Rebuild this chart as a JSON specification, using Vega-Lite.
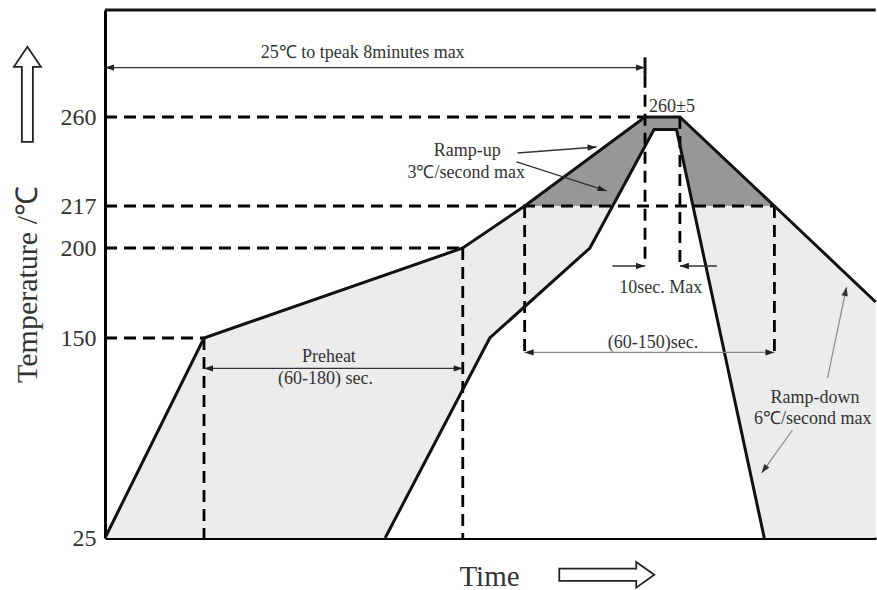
{
  "$schema": "https://vega.github.io/schema/vega-lite/v6.json",
  "width": 771,
  "height": 528,
  "autosize": {"type": "none"},
  "padding": {"left": 105, "top": 10, "right": 1, "bottom": 52},
  "background": "white",
  "config": {"view": {"stroke": null}, "font": "Liberation Serif"},
  "datasets": {
    "upper": [{"t":0,"v":25},{"t":88,"v":150},{"t":318,"v":200},{"t":373,"v":217},{"t":480,"v":260},{"t":511,"v":260},{"t":595,"v":217},{"t":685,"v":170}],
    "lower": [{"t":249,"v":25},{"t":342,"v":150},{"t":431,"v":200},{"t":488,"v":254},{"t":508,"v":254},{"t":586,"v":25}],
    "peak": [{"t":373,"v":217},{"t":480,"v":260},{"t":511,"v":260},{"t":595,"v":217}],
    "dashes": [
      {"t":0,"v":260,"t2":480,"v2":260},
      {"t":0,"v":217,"t2":595,"v2":217},
      {"t":0,"v":200,"t2":318,"v2":200},
      {"t":0,"v":150,"t2":88,"v2":150},
      {"t":88,"v":150,"t2":88,"v2":25},
      {"t":318,"v":200,"t2":318,"v2":25},
      {"t":373,"v":217,"t2":373,"v2":138},
      {"t":595,"v":217,"t2":595,"v2":138},
      {"t":480,"v":280,"t2":480,"v2":190},
      {"t":511,"v":260,"t2":511,"v2":190}
    ],
    "frame": [{"t":0,"v":312,"t2":685,"v2":312},{"t":480,"v":289,"t2":480,"v2":280}],
    "arrows": [
      {"t":0,"v":284,"t2":480,"v2":284},
      {"t":88,"v":131,"t2":318,"v2":131},
      {"t":451,"v":190,"t2":480,"v2":190},
      {"t":544,"v":190,"t2":511,"v2":190},
      {"t":366.7,"v":242.6,"t2":436.9,"v2":245.5},
      {"t":365.8,"v":238.3,"t2":445.8,"v2":224.3}
    ],
    "arrowsGray": [
      {"t":373,"v":141,"t2":595,"v2":141},
      {"t":642.2,"v":125,"t2":659.1,"v2":178.3},
      {"t":611.1,"v":92.5,"t2":583.6,"v2":65.6}
    ],
    "headsRight": [{"t":480,"v":284},{"t":318,"v":131},{"t":480,"v":190}],
    "headsLeft": [{"t":0,"v":284},{"t":88,"v":131},{"t":511,"v":190}],
    "grayRight": [{"t":595,"v":141}],
    "grayLeft": [{"t":373,"v":141}],
    "upArrow": [{"t":-69,"v":271}],
    "timeArrow": [{"t":446,"v":2}],
    "labels": [
      {"label":"25℃ to tpeak 8minutes max","t":229,"v":291},
      {"label":"260±5","t":504,"v":265},
      {"label":"Ramp-up","t":322,"v":243.5},
      {"label":"3℃/second max","t":321,"v":233},
      {"label":"10sec.  Max","t":494,"v":178},
      {"label":"(60-150)sec.","t":487,"v":147},
      {"label":"Preheat","t":199,"v":138},
      {"label":"(60-180) sec.","t":196,"v":124.4},
      {"label":"Ramp-down","t":631,"v":112.5},
      {"label":"6℃/second max","t":629,"v":99.5}
    ]
  },
  "layer": [
    {
      "data": {"name": "upper"},
      "mark": {"type": "area", "color": "#ececec", "opacity": 1},
      "encoding": {
        "x": {"field": "t", "type": "quantitative",
          "scale": {"domain": [0, 685.3], "nice": false, "zero": false},
          "axis": {"title": "Time", "labels": false, "ticks": false, "grid": false, "domainColor": "black", "domainWidth": 3,
            "titleFont": "Liberation Serif", "titleFontSize": 29, "titleFontWeight": "normal", "titleColor": "#333",
            "titleX": 384, "titleY": 38, "titleAlign": "center", "titleBaseline": "middle"}},
        "y": {"field": "v", "type": "quantitative",
          "scale": {"type": "linear", "domain": [25, 150, 200, 217, 260, 312], "range": [528, 328, 238, 196, 107, 0], "nice": false, "zero": false},
          "axis": {"values": [25, 150, 200, 217, 260], "title": "Temperature /℃", "titleFont": "Liberation Serif", "titleFontSize": 30,
            "titleFontWeight": "normal", "titleColor": "#333", "titleX": -78, "titleY": 274, "titleAngle": -90, "titleAlign": "center",
            "titleBaseline": "middle", "labelFont": "Liberation Serif", "labelFontSize": 24, "labelColor": "#333", "labelPadding": 9,
            "ticks": false, "grid": false, "domainColor": "black", "domainWidth": 3, "labelOverlap": false, "labelFlush": false}},
        "y2": {"datum": 25}
      }
    },
    {
      "data": {"name": "peak"},
      "mark": {"type": "area", "color": "#979797", "opacity": 1},
      "encoding": {"x": {"field": "t", "type": "quantitative"}, "y": {"field": "v", "type": "quantitative"}, "y2": {"datum": 217}}
    },
    {
      "data": {"name": "lower"},
      "mark": {"type": "area", "color": "white", "opacity": 1},
      "encoding": {"x": {"field": "t", "type": "quantitative"}, "y": {"field": "v", "type": "quantitative"}, "y2": {"datum": 25}}
    },
    {
      "data": {"name": "dashes"},
      "mark": {"type": "rule", "color": "black", "strokeWidth": 2.8, "strokeDash": [12, 7]},
      "encoding": {"x": {"field": "t", "type": "quantitative"}, "y": {"field": "v", "type": "quantitative"}, "x2": {"field": "t2"}, "y2": {"field": "v2"}}
    },
    {
      "data": {"name": "upper"},
      "mark": {"type": "line", "color": "#111", "strokeWidth": 3},
      "encoding": {"x": {"field": "t", "type": "quantitative"}, "y": {"field": "v", "type": "quantitative"}}
    },
    {
      "data": {"name": "lower"},
      "mark": {"type": "line", "color": "#111", "strokeWidth": 3},
      "encoding": {"x": {"field": "t", "type": "quantitative"}, "y": {"field": "v", "type": "quantitative"}}
    },
    {
      "data": {"name": "frame"},
      "mark": {"type": "rule", "color": "#111", "strokeWidth": 3},
      "encoding": {"x": {"field": "t", "type": "quantitative"}, "y": {"field": "v", "type": "quantitative"}, "x2": {"field": "t2"}, "y2": {"field": "v2"}}
    },
    {
      "data": {"name": "arrows"},
      "mark": {"type": "rule", "color": "#333", "strokeWidth": 1.3},
      "encoding": {"x": {"field": "t", "type": "quantitative"}, "y": {"field": "v", "type": "quantitative"}, "x2": {"field": "t2"}, "y2": {"field": "v2"}}
    },
    {
      "data": {"name": "arrowsGray"},
      "mark": {"type": "rule", "color": "#888", "strokeWidth": 1.2},
      "encoding": {"x": {"field": "t", "type": "quantitative"}, "y": {"field": "v", "type": "quantitative"}, "x2": {"field": "t2"}, "y2": {"field": "v2"}}
    },
    {
      "data": {"name": "headsRight"},
      "mark": {"type": "point", "shape": "M0,0L-2,-0.7L-2,0.7Z", "filled": true, "color": "#222", "opacity": 1, "size": 81, "angle": 0},
      "encoding": {"x": {"field": "t", "type": "quantitative"}, "y": {"field": "v", "type": "quantitative"}}
    },
    {
      "data": {"name": "headsLeft"},
      "mark": {"type": "point", "shape": "M0,0L-2,-0.7L-2,0.7Z", "filled": true, "color": "#222", "opacity": 1, "size": 81, "angle": 180},
      "encoding": {"x": {"field": "t", "type": "quantitative"}, "y": {"field": "v", "type": "quantitative"}}
    },
    {
      "data": {"name": "grayRight"},
      "mark": {"type": "point", "shape": "M0,0L-2,-0.7L-2,0.7Z", "filled": true, "color": "#222", "opacity": 1, "size": 81, "angle": 0},
      "encoding": {"x": {"field": "t", "type": "quantitative"}, "y": {"field": "v", "type": "quantitative"}}
    },
    {
      "data": {"name": "grayLeft"},
      "mark": {"type": "point", "shape": "M0,0L-2,-0.7L-2,0.7Z", "filled": true, "color": "#222", "opacity": 1, "size": 81, "angle": 180},
      "encoding": {"x": {"field": "t", "type": "quantitative"}, "y": {"field": "v", "type": "quantitative"}}
    },
    {
      "data": {"values": [{"t": 436.9, "v": 245.5}]},
      "mark": {"type": "point", "shape": "M0,0L-2,-0.7L-2,0.7Z", "filled": true, "color": "#222", "opacity": 1, "size": 81, "angle": -4.3},
      "encoding": {"x": {"field": "t", "type": "quantitative"}, "y": {"field": "v", "type": "quantitative"}}
    },
    {
      "data": {"values": [{"t": 445.8, "v": 224.3}]},
      "mark": {"type": "point", "shape": "M0,0L-2,-0.7L-2,0.7Z", "filled": true, "color": "#222", "opacity": 1, "size": 81, "angle": 17.9},
      "encoding": {"x": {"field": "t", "type": "quantitative"}, "y": {"field": "v", "type": "quantitative"}}
    },
    {
      "data": {"values": [{"t": 659.1, "v": 178.3}]},
      "mark": {"type": "point", "shape": "M0,0L-2,-0.7L-2,0.7Z", "filled": true, "color": "#333", "opacity": 1, "size": 81, "angle": -78.2},
      "encoding": {"x": {"field": "t", "type": "quantitative"}, "y": {"field": "v", "type": "quantitative"}}
    },
    {
      "data": {"values": [{"t": 583.6, "v": 65.6}]},
      "mark": {"type": "point", "shape": "M0,0L-2,-0.7L-2,0.7Z", "filled": true, "color": "#333", "opacity": 1, "size": 81, "angle": 125.8},
      "encoding": {"x": {"field": "t", "type": "quantitative"}, "y": {"field": "v", "type": "quantitative"}}
    },
    {
      "data": {"name": "upArrow"},
      "mark": {"type": "point", "shape": "M0,-1L0.284,-0.58L0.116,-0.58L0.116,1L-0.116,1L-0.116,-0.58L-0.284,-0.58Z", "filled": true, "fill": "white", "stroke": "#222", "strokeWidth": 1.8, "opacity": 1, "size": 9025, "angle": 0},
      "encoding": {"x": {"field": "t", "type": "quantitative"}, "y": {"field": "v", "type": "quantitative"}}
    },
    {
      "data": {"name": "timeArrow"},
      "mark": {"type": "point", "shape": "M0,-1L0.27,-0.62L0.13,-0.62L0.13,1L-0.13,1L-0.13,-0.62L-0.27,-0.62Z", "filled": true, "fill": "white", "stroke": "#222", "strokeWidth": 1.8, "opacity": 1, "size": 9025, "angle": 90},
      "encoding": {"x": {"field": "t", "type": "quantitative"}, "y": {"field": "v", "type": "quantitative"}}
    },
    {
      "data": {"name": "labels"},
      "mark": {"type": "text", "font": "Liberation Serif", "fontSize": 18, "color": "#333", "align": "center", "baseline": "middle"},
      "encoding": {"x": {"field": "t", "type": "quantitative"}, "y": {"field": "v", "type": "quantitative"}, "text": {"field": "label"}}
    }
  ]
}
